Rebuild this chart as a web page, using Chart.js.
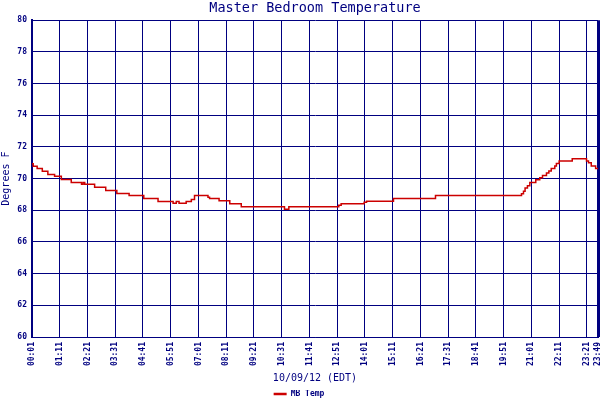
<!DOCTYPE html>
<html>
<head>
<meta charset="utf-8">
<title>Master Bedroom Temperature</title>
<script src="https://cdn.jsdelivr.net/npm/chart.js@4/dist/chart.umd.min.js"></script>
<style>
  body { margin: 0; background: #fff; }
  canvas { display: block; }
</style>
</head>
<body>
<canvas id="tempChart" width="600" height="400"></canvas>
<script>
// readings: time the value changed, and the value held from then on
var times = ['00:01', '00:04', '00:14', '00:27', '00:41', '00:58', '01:15', '01:40', '02:06', '02:10',
  '02:14', '02:39', '03:07', '03:35', '04:06', '04:43', '05:19', '05:57', '06:05', '06:12',
  '06:30', '06:43', '06:51', '07:25', '07:29', '07:53', '08:20', '08:49', '10:38', '10:49',
  '12:55', '13:01', '13:59', '14:05', '15:13', '16:59', '20:36', '20:41', '20:45', '20:51',
  '20:57', '21:12', '21:22', '21:29', '21:39', '21:45', '21:51', '22:00', '22:04', '22:11',
  '22:44', '23:20', '23:25', '23:32', '23:43', '23:49'];
var temps = [70.93, 70.78, 70.63, 70.46, 70.26, 70.15, 69.95, 69.76, 69.64, 69.76,
  69.64, 69.46, 69.25, 69.06, 68.93, 68.74, 68.56, 68.44, 68.56, 68.44,
  68.56, 68.68, 68.94, 68.82, 68.74, 68.6, 68.42, 68.23, 68.06, 68.23,
  68.32, 68.42, 68.5, 68.57, 68.74, 68.93, 69.05, 69.2, 69.4, 69.55,
  69.75, 69.93, 70.06, 70.2, 70.36, 70.48, 70.63, 70.8, 70.95, 71.11,
  71.26, 71.11, 71.0, 70.8, 70.63, 70.63];

var tickLabels = ['00:01', '01:11', '02:21', '03:31', '04:41', '05:51', '07:01', '08:11', '09:21', '10:31',
  '11:41', '12:51', '14:01', '15:11', '16:21', '17:31', '18:41', '19:51', '21:01', '22:11',
  '23:21', '23:49'];
var yTicks = [60, 62, 64, 66, 68, 70, 72, 74, 76, 78, 80];

var navy = '#000080';
var mono = '"DejaVu Sans Mono", "Liberation Mono", monospace';

function toMinutes(s) {
  var p = s.split(':');
  return Number(p[0]) * 60 + Number(p[1]);
}
function toClock(m) {
  var h = Math.floor(m / 60), mm = m % 60;
  return (h < 10 ? '0' : '') + h + ':' + (mm < 10 ? '0' : '') + mm;
}

var points = times.map(function(t, i) {
  return { x: toMinutes(t), y: temps[i] };
});
var tickMinutes = tickLabels.map(toMinutes);

var ctx = document.getElementById('tempChart').getContext('2d');
var myChart = new Chart(ctx, {
  type: 'line',
  data: {
    datasets: [{
      label: 'MB Temp',
      data: points,
      borderColor: '#cc0000',
      backgroundColor: '#cc0000',
      borderWidth: 1.5,
      pointRadius: 0,
      stepped: true,
      fill: false
    }]
  },
  options: {
    responsive: false,
    animation: false,
    devicePixelRatio: 1,
    events: [],
    // negative bottom padding pushes the legend down to the canvas edge
    layout: { padding: { left: 0, right: 2, top: 0, bottom: -8 } },
    plugins: {
      title: {
        display: true,
        text: 'Master Bedroom Temperature',
        color: navy,
        fullSize: false,
        font: { family: mono, size: 13.5, weight: 'normal' },
        padding: { top: 0, bottom: 4 }
      },
      legend: {
        position: 'bottom',
        labels: {
          color: navy,
          font: { family: mono, size: 8, weight: 'bold' },
          usePointStyle: true,
          pointStyle: 'line',
          pointStyleWidth: 13,
          padding: 0,
          generateLabels: function(chart) {
            var items = Chart.defaults.plugins.legend.labels.generateLabels(chart);
            items.forEach(function(it) { it.lineWidth = 2.5; });
            return items;
          }
        }
      },
      tooltip: { enabled: false }
    },
    scales: {
      x: {
        type: 'linear',
        min: tickMinutes[0],
        max: tickMinutes[tickMinutes.length - 1],
        afterBuildTicks: function(scale) {
          scale.ticks = tickMinutes.map(function(v) { return { value: v }; });
        },
        afterFit: function(scale) {
          scale.height = 53;
          scale.paddingLeft = 0;
          scale.paddingRight = 0;
        },
        grid: {
          color: navy,
          lineWidth: function(c) { return c.index === tickMinutes.length - 1 ? 3 : 1; },
          drawTicks: false
        },
        border: { color: navy, width: 1 },
        ticks: {
          autoSkip: false,
          minRotation: 90,
          maxRotation: 90,
          padding: 5,
          color: navy,
          font: { family: mono, size: 8, weight: 'bold' },
          callback: function(v) { return toClock(v); }
        },
        title: {
          display: true,
          text: '10/09/12 (EDT)',
          color: navy,
          font: { family: mono, size: 10 },
          padding: { top: 0, bottom: 6 }
        }
      },
      y: {
        min: yTicks[0],
        max: yTicks[yTicks.length - 1],
        afterBuildTicks: function(scale) {
          scale.ticks = yTicks.map(function(v) { return { value: v }; });
        },
        afterFit: function(scale) {
          scale.width = 32;
        },
        grid: { color: navy, lineWidth: 1, drawTicks: false },
        border: { color: navy, width: 2 },
        ticks: {
          padding: 5,
          color: navy,
          font: { family: mono, size: 8, weight: 'bold' }
        },
        title: {
          display: true,
          text: 'Degrees F',
          color: navy,
          font: { family: mono, size: 10 },
          padding: { top: 0, bottom: 0 }
        }
      }
    }
  }
});
</script>
</body>
</html>
